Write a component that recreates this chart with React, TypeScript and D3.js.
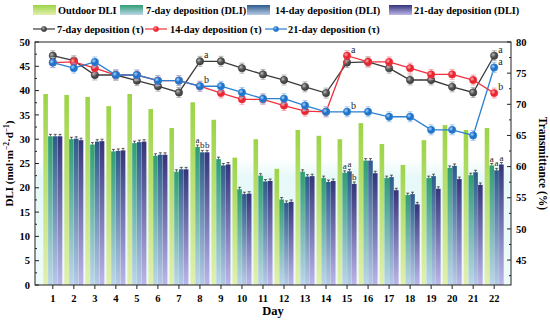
import React from 'react';
import * as d3 from 'd3';

const days = ['1','2','3','4','5','6','7','8','9','10','11','12','13','14','15','16','17','18','19','20','21','22'];

// DLI bars (left axis)
const outdoorDLI = [39.3,39.1,38.7,36.8,39.3,36.2,32.3,37.6,34.0,26.2,30.0,23.9,31.9,30.7,30.0,33.3,29.0,24.7,29.8,32.9,31.9,32.3];
const dli7 = [30.6,30.0,28.9,27.5,29.2,26.6,23.3,28.4,25.9,19.7,22.5,17.6,23.3,22.0,23.1,25.6,22.0,18.5,22.0,24.1,22.6,24.6];
const dli14 = [30.6,30.1,29.5,27.6,29.4,26.8,23.8,27.3,24.6,18.7,21.3,16.9,22.3,21.2,23.4,25.6,22.2,18.7,22.4,24.5,23.2,23.6];
const dli21 = [30.6,29.8,29.6,27.7,29.5,26.8,23.8,27.3,24.8,18.8,21.4,17.1,22.4,21.4,20.8,23.0,19.5,16.6,19.8,21.8,20.6,24.8];

// transmittance lines (right axis)
const tau7 = [77.8,77.0,74.7,74.7,73.8,72.9,71.9,76.9,76.9,75.8,74.8,73.9,72.8,71.8,76.7,76.8,75.8,73.9,73.9,72.8,71.9,77.8];
const tau14 = [76.7,76.8,75.8,74.7,74.7,73.8,73.8,72.9,71.8,70.8,70.8,69.8,68.9,68.8,77.8,76.8,76.8,75.8,74.8,74.8,73.9,71.8];
const tau21 = [76.7,75.8,76.8,74.7,74.7,73.8,73.8,72.9,72.9,71.9,70.9,70.9,69.8,68.8,68.8,68.8,68.0,68.0,65.9,65.9,65.0,75.9];

const leftTicks = [0,5,10,15,20,25,30,35,40,45,50];
const rightTicks = [45,50,55,60,65,70,75,80];

// significance letters: [day, series, letter]
const barLetters: [string, string, string][] = [
  ['8','d7','a'],['8','d14','b'],['8','d21','b'],
  ['15','d7','a'],['15','d14','a'],['15','d21','b'],
  ['22','d7','a'],['22','d14','a'],['22','d21','a'],
];
const lineLetters: [string, string, string][] = [
  ['8','t7','a'],['8','t21','b'],
  ['15','t14','a'],['15','t21','b'],
  ['22','t7','a'],['22','t21','a'],['22','t14','b'],
];

const barSeries = [
  {key:'out', name:'Outdoor DLI', values: outdoorDLI, top:'#9cd447', bot:'#e2f0b0', err: 0},
  {key:'d7', name:'7-day deposition (DLI)', values: dli7, top:'#2f9e72', bot:'#bcd6ea', err: 0.4},
  {key:'d14', name:'14-day deposition (DLI)', values: dli14, top:'#2d5b8a', bot:'#b6cae6', err: 0.4},
  {key:'d21', name:'21-day deposition (DLI)', values: dli21, top:'#35347a', bot:'#bdb6ea', err: 0.4},
];
const lineSeries = [
  {key:'t7', name:'7-day deposition (τ)', values: tau7, color:'#3a3a3a', light:'#555', hi:'#bbb', err:'#9a9a9a'},
  {key:'t14', name:'14-day deposition (τ)', values: tau14, color:'#f0303c', light:'#e8202c', hi:'#ffb0b0', err:'#f08a90'},
  {key:'t21', name:'21-day deposition (τ)', values: tau21, color:'#2a7fd0', light:'#1a6fc8', hi:'#a8d4ff', err:'#8ab8e6'},
];

const W = 550, H = 323;
const L = 35, R = 511, T = 42, B = 285;
const font = '"Liberation Serif", "Times New Roman", serif';

export default function App() {
  const x = d3.scaleBand<string>().domain(days).range([36, R]).paddingInner(0).paddingOuter(0.3);
  const sub = d3.scaleBand<string>().domain(['out','d7','d14','d21']).range([-9.5, 9.5]).paddingInner(0.04);
  const yL = d3.scaleLinear().domain([0, 50]).range([B, T]);
  const yR = d3.scaleLinear().domain([41, 80]).range([B, T]);
  const cx = (d: string) => (x(d) as number) + x.bandwidth() / 2;
  const line = d3.line<number>().x((_, i) => cx(days[i])).y(v => yR(v));
  const leftMinor = d3.range(2.5, 50, 5);
  const rightMinor = d3.range(42.5, 80, 5);
  const seriesByKey: Record<string, number[]> = {d7: dli7, d14: dli14, d21: dli21, t7: tau7, t14: tau14, t21: tau21};

  return (
    <svg width={W} height={H} style={{position:'absolute', left:0, top:0, background:'#fff'}} fontFamily={font}>
      <defs>
        {barSeries.map(s => (
          <linearGradient key={s.key} id={'g-'+s.key} x1="0" y1="0" x2="0" y2="1">
            <stop offset="0" stopColor={s.top}/>
            <stop offset="1" stopColor={s.bot}/>
          </linearGradient>
        ))}
        {lineSeries.map(s => (
          <radialGradient key={s.key} id={'m-'+s.key} cx="0.35" cy="0.35" r="0.7">
            <stop offset="0" stopColor={s.hi}/>
            <stop offset="0.5" stopColor={s.light}/>
            <stop offset="1" stopColor={s.color}/>
          </radialGradient>
        ))}
        <linearGradient id="glow" x1="0" y1="0" x2="0" y2="1">
          <stop offset="0" stopColor="#e6f8f8" stopOpacity="0"/>
          <stop offset="0.15" stopColor="#e6f8f8" stopOpacity="1"/>
          <stop offset="1" stopColor="#eefbfb" stopOpacity="1"/>
        </linearGradient>
      </defs>

      <rect x={L} y={yL(26)} width={R-L} height={B-yL(26)} fill="url(#glow)"/>

      {/* bars */}
      {barSeries.map(s => (
        <g key={s.key}>
          {s.values.map((v, i) => {
            const bx = cx(days[i]) + (sub(s.key) as number);
            return <rect key={i} x={bx} y={yL(v)} width={sub.bandwidth()} height={B - yL(v)} fill={`url(#g-${s.key})`}/>;
          })}
          {s.err > 0 && s.values.map((v, i) => {
            const mx = cx(days[i]) + (sub(s.key) as number) + sub.bandwidth()/2;
            return (
              <g key={'e'+i} stroke="#222" strokeWidth={0.7}>
                <line x1={mx} x2={mx} y1={yL(v+s.err)} y2={yL(v)}/>
                <line x1={mx-1.5} x2={mx+1.5} y1={yL(v+s.err)} y2={yL(v+s.err)}/>
              </g>
            );
          })}
        </g>
      ))}
      {barLetters.map(([d, k, t], i) => {
        const v = seriesByKey[k][days.indexOf(d)];
        const mx = cx(d) + (sub(k) as number) + sub.bandwidth()/2;
        return <text key={i} x={mx} y={yL(v + 0.4) - 2} fontSize={9} fontFamily={font} textAnchor="middle" fill="#222">{t}</text>;
      })}

      {/* lines */}
      {lineSeries.map(s => (
        <g key={s.key}>
          <path d={line(s.values) || ''} fill="none" stroke={s.color} strokeWidth={1.3}/>
          {s.values.map((v, i) => (
            <g key={'e'+i} stroke={s.err} strokeWidth={0.7}>
              <line x1={cx(days[i])} x2={cx(days[i])} y1={yR(v+0.8)} y2={yR(v-0.8)}/>
              <line x1={cx(days[i])-2.5} x2={cx(days[i])+2.5} y1={yR(v+0.8)} y2={yR(v+0.8)}/>
              <line x1={cx(days[i])-2.5} x2={cx(days[i])+2.5} y1={yR(v-0.8)} y2={yR(v-0.8)}/>
            </g>
          ))}
          {s.values.map((v, i) => (
            <circle key={i} cx={cx(days[i])} cy={yR(v)} r={3.7} fill={`url(#m-${s.key})`} stroke={s.color} strokeWidth={0.6}/>
          ))}
        </g>
      ))}
      {lineLetters.map(([d, k, t], i) => {
        const v = seriesByKey[k][days.indexOf(d)];
        return <text key={i} x={cx(d) + 4} y={yR(v) - 3} fontSize={10} fontFamily={font} fill="#222">{t}</text>;
      })}

      {/* frame */}
      <rect x={L} y={T} width={R-L} height={B-T} fill="none" stroke="#222" strokeWidth={1}/>

      {/* left axis */}
      {leftTicks.map(t => (
        <g key={t}>
          <line x1={L} x2={L+4} y1={yL(t)} y2={yL(t)} stroke="#222"/>
          <text x={L-5} y={yL(t)} dy="0.35em" textAnchor="end" fontSize={10.5} fontWeight="bold">{t}</text>
        </g>
      ))}
      {leftMinor.map(t => <line key={t} x1={L} x2={L+2} y1={yL(t)} y2={yL(t)} stroke="#222"/>)}

      {/* right axis */}
      {rightTicks.map(t => (
        <g key={t}>
          <line x1={R} x2={R-4} y1={yR(t)} y2={yR(t)} stroke="#222"/>
          <text x={R+5} y={yR(t)} dy="0.35em" textAnchor="start" fontSize={10.5} fontWeight="bold">{t}</text>
        </g>
      ))}
      {rightMinor.map(t => <line key={t} x1={R} x2={R-2} y1={yR(t)} y2={yR(t)} stroke="#222"/>)}

      {/* x axis */}
      {days.map(d => (
        <g key={d}>
          <line x1={cx(d)} x2={cx(d)} y1={B} y2={B+4} stroke="#222"/>
          <text x={cx(d)} y={B+17} textAnchor="middle" fontSize={10.5} fontWeight="bold">{d}</text>
        </g>
      ))}

      <text x={(L+R)/2} y={315} textAnchor="middle" fontSize={12.5} fontWeight="bold">Day</text>
      <text transform={`translate(13,${(T+B)/2}) rotate(-90)`} textAnchor="middle" fontSize={11} fontWeight="bold">
        DLI (mol·m<tspan dy="-4" fontSize={7.5}>−2</tspan><tspan dy="4">·d</tspan><tspan dy="-4" fontSize={7.5}>−1</tspan><tspan dy="4">)</tspan>
      </text>
      <text transform={`translate(539,${(T+B)/2}) rotate(90)`} textAnchor="middle" fontSize={11.5} fontWeight="bold">Transmittance (%)</text>

      {/* legend row 1 */}
      {[[33,58],[120,146],[247,275],[389,414]].map(([sx, tx], i) => (
        <g key={i}>
          <rect x={sx} y={5} width={23} height={10} fill={`url(#g-${barSeries[i].key})`}/>
          <text x={tx} y={10} dy="0.35em" fontSize={10.3} fontWeight="bold">{barSeries[i].name}</text>
        </g>
      ))}
      {/* legend row 2 */}
      {[[33,57],[145,170],[265,288]].map(([sx, tx], i) => (
        <g key={i}>
          <line x1={sx} x2={sx+22} y1={29} y2={29} stroke={lineSeries[i].color} strokeWidth={1.2}/>
          <circle cx={sx+11} cy={29} r={2.6} fill={`url(#m-${lineSeries[i].key})`} stroke={lineSeries[i].color} strokeWidth={0.6}/>
          <text x={tx} y={29} dy="0.35em" fontSize={10.3} fontWeight="bold">{lineSeries[i].name}</text>
        </g>
      ))}
    </svg>
  );
}
